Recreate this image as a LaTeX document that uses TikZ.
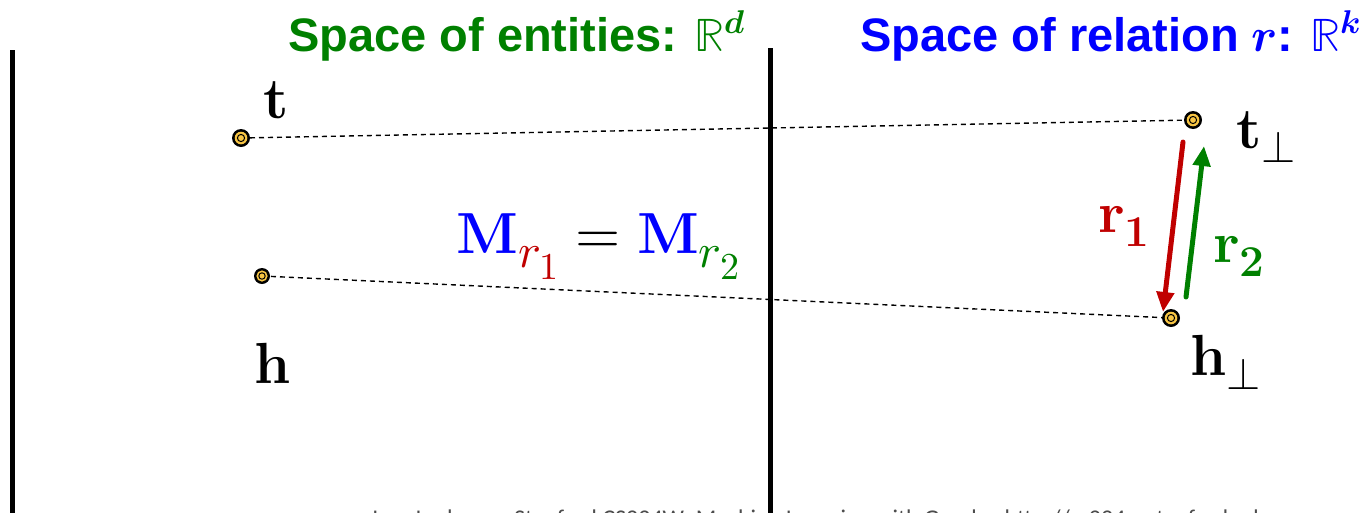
\documentclass[tikz,border=0pt]{standalone}
\usepackage{fontspec}
\usepackage{unicode-math}
\setmainfont{Latin Modern Roman}
\setmathfont{Latin Modern Math}
\newfontfamily\titlefont{Liberation Sans}
\newfontfamily\footfont{Carlito}
\usetikzlibrary{arrows.meta}
\definecolor{tgreen}{HTML}{008000}
\definecolor{tblue}{HTML}{0000FF}
\definecolor{tred}{HTML}{C00000}
\definecolor{dotyellow}{HTML}{F7C544}
\tikzset{
  wall/.style={line width=5pt, black},
  proj/.style={line width=1.4pt, dash pattern=on 5pt off 4pt, black},
  ttl/.style={anchor=base west, inner sep=0pt, font=\titlefont\bfseries\fontsize{47}{52}\selectfont},
  lbl/.style={anchor=base west, inner sep=0pt, font=\fontsize{58}{64}\selectfont},
  rel/.style={line width=5pt, line cap=round, -{Triangle[length=20pt,width=17pt]}},
}
\newcommand{\sbx}[2]{\mbox{\fontsize{#1}{#1}\selectfont$#2$}}
\newcommand{\embdot}[2]{%
  \fill[black] (#1) circle (#2);
  \fill[dotyellow] (#1) circle (#2*0.7);
  \draw[black, line width=1pt] (#1) circle (#2*0.4);
}
\begin{document}
\begin{tikzpicture}[x=1pt,y=-1pt]
\useasboundingbox (0,0) rectangle (1372,512);
\begin{scope}
\clip (0,0) rectangle (1372,512);
% walls
\coordinate (wl1) at (12,50); \coordinate (wl2) at (12,520);
\coordinate (wm1) at (770,48); \coordinate (wm2) at (770,520);
\draw[wall] (wl1) -- (wl2);
\draw[wall] (wm1) -- (wm2);
% footer (cut by the lower edge, as in the reference)
\node[anchor=base west, inner sep=0pt, text=black!70, font=\footfont\fontsize{24}{28}\selectfont] (foot) at (370,526) {Jure Leskovec, Stanford CS224W: Machine Learning with Graphs, http://cs224w.stanford.edu};
\end{scope}
% titles
\node[ttl, text=tgreen] (tl) at (288,51) {Space of entities: $\mathbb{R}^{\symbfit{d}}$};
\node[ttl, text=tblue] (tr) at (860,51) {Space of relation $\symbfit{r}$: $\mathbb{R}^{\symbfit{k}}$};
% points
\coordinate (t) at (241,138);
\coordinate (h) at (262,276);
\coordinate (tp) at (1193,120);
\coordinate (hp) at (1171,318);
\draw[proj] (t) -- (tp);
\draw[proj] (h) -- (hp);
\embdot{t}{9}
\embdot{h}{8}
\embdot{tp}{9}
\embdot{hp}{9}
% labels
\node[lbl] (tlab) at (263,118) {$\mathbf{t}$};
\node[lbl] (hlab) at (254,383) {$\mathbf{h}$};
\node[lbl] (tplab) at (1236,148) {$\mathbf{t}_{\sbx{44}{\perp}}$};
\node[lbl] (hplab) at (1190,375) {$\mathbf{h}_{\sbx{44}{\perp}}$};
% equation
\node[anchor=base west, inner sep=0pt, font=\fontsize{58}{64}\selectfont] (eq) at (456,253)
  {$\textcolor{tblue}{\mathbf{M}}_{\sbx{48}{\textcolor{tred}{r_{\sbx{38}{1}}}}} = \textcolor{tblue}{\mathbf{M}}_{\sbx{48}{\textcolor{tgreen}{r_{\sbx{38}{2}}}}}$};
% relation arrows
\coordinate (r1s) at (1183,142);
\coordinate (r1e) at (1163,312);
\coordinate (r2s) at (1186,297);
\coordinate (r2e) at (1204,146);
\draw[rel, tred] (r1s) -- (r1e);
\draw[rel, tgreen] (r2s) -- (r2e);
\node[lbl, text=tred] (r1lab) at (1098,232) {$\mathbf{r}_{\sbx{44}{\mathbf{1}}}$};
\node[lbl, text=tgreen] (r2lab) at (1213,262) {$\mathbf{r}_{\sbx{44}{\mathbf{2}}}$};
\end{tikzpicture}
\end{document}
